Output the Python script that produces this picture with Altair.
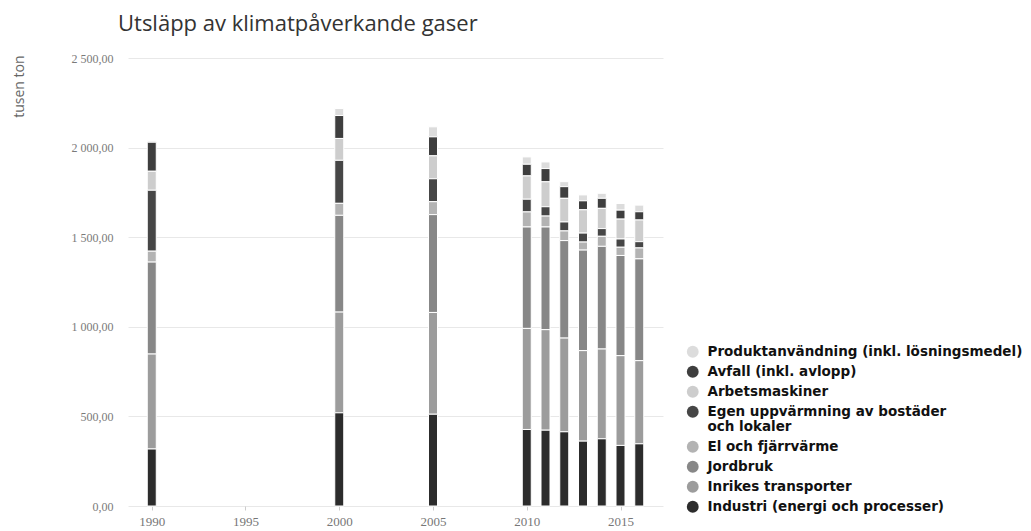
import altair as alt
import pandas as pd

years = [1990, 2000, 2005, 2010, 2011, 2012, 2013, 2014, 2015, 2016]

industri = [318, 520, 512, 427, 423, 414, 362, 375, 338, 347]
inrikes = [530, 562, 568, 564, 561, 523, 505, 501, 501, 464]
jordbruk = [513, 540, 546, 566, 573, 544, 561, 573, 559, 568]
el_fjarr = [61, 67, 72, 84, 61, 54, 45, 56, 46, 61]
egen_uppv = [340, 240, 128, 71, 52, 50, 50, 43, 46, 35]
arbetsmaskiner = [106, 122, 128, 130, 139, 132, 130, 113, 111, 121]
avfall = [162, 128, 106, 65, 74, 65, 50, 56, 50, 46]
produkt = [8, 39, 56, 41, 37, 28, 33, 28, 37, 37]

# legend order (top to bottom)
categories = [
    "Produktanvändning (inkl. lösningsmedel)",
    "Avfall (inkl. avlopp)",
    "Arbetsmaskiner",
    "Egen uppvärmning av bostäder och lokaler",
    "El och fjärrvärme",
    "Jordbruk",
    "Inrikes transporter",
    "Industri (energi och processer)",
]
series = [produkt, avfall, arbetsmaskiner, egen_uppv, el_fjarr, jordbruk, inrikes, industri]
colors = ["#dcdcdc", "#3e3e3e", "#cdcdcd", "#464646", "#b3b3b3", "#878787", "#9c9c9c", "#2c2c2c"]

x_ticks = [1990, 1995, 2000, 2005, 2010, 2015]
y_ticks = [0, 500, 1000, 1500, 2000, 2500]

rows = []
for ci, (cat, vals) in enumerate(zip(categories, series)):
    for yr, v in zip(years, vals):
        rows.append({"year": yr, "kategori": cat, "value": v, "ord": len(categories) - ci})
df = pd.DataFrame(rows)

label_expr = (
    "datum.label == 'Egen uppvärmning av bostäder och lokaler' ? "
    "['Egen uppvärmning av bostäder', 'och lokaler'] : datum.label"
)

chart = alt.Chart(df).mark_bar(size=9, stroke="white", strokeWidth=1).encode(
    x=alt.X(
        "year:Q",
        scale=alt.Scale(domain=[1989, 2017], nice=False, zero=False),
        axis=alt.Axis(
            values=x_ticks, format="d", title=None, grid=False, domain=False,
            ticks=True, tickSize=4, tickColor="#cccccc", labelPadding=5,
            labelFont="Liberation Serif", labelFontSize=13, labelColor="#777777",
        ),
    ),
    y=alt.Y(
        "value:Q",
        stack="zero",
        scale=alt.Scale(domain=[0, 2500], nice=False),
        axis=alt.Axis(
            values=y_ticks, title="tusen ton", domain=False, ticks=False,
            labelPadding=15, gridColor="#e8e8e8",
            labelExpr="replace(replace(format(datum.value, ',.2f'), ',', ' '), '.', ',')",
            labelFont="Liberation Serif", labelFontSize=12, labelColor="#7a7a7a",
            titleFont="Open Sans", titleFontSize=14, titleFontWeight="normal",
            titleColor="#666666", titleX=-109, titleY=-3, titleAngle=270,
            titleAlign="right", titleBaseline="middle",
        ),
    ),
    color=alt.Color(
        "kategori:N",
        scale=alt.Scale(domain=categories, range=colors),
        legend=alt.Legend(
            title=None, orient="none", legendX=558, legendY=287,
            symbolType="circle", symbolSize=140, symbolStrokeWidth=0,
            labelFont="DejaVu Sans", labelFontSize=13.5, labelFontWeight="bold",
            labelColor="#111111", labelLimit=400, labelOffset=8, rowPadding=5,
            labelExpr=label_expr,
        ),
    ),
    order=alt.Order("ord:Q", sort="ascending"),
).properties(
    width=535,
    height=448,
    title=alt.TitleParams(
        "Utsläpp av klimatpåverkande gaser", anchor="start", frame="group", dx=-10,
        font="Open Sans", fontSize=22, fontWeight="normal", color="#333333",
        offset=16,
    ),
    autosize=alt.AutoSizeParams(type="none"),
    padding={"left": 120, "top": 50, "right": 360, "bottom": 22},
).configure_view(stroke=None)

chart.save("out.html", embed_options={"renderer": "svg", "actions": False})
